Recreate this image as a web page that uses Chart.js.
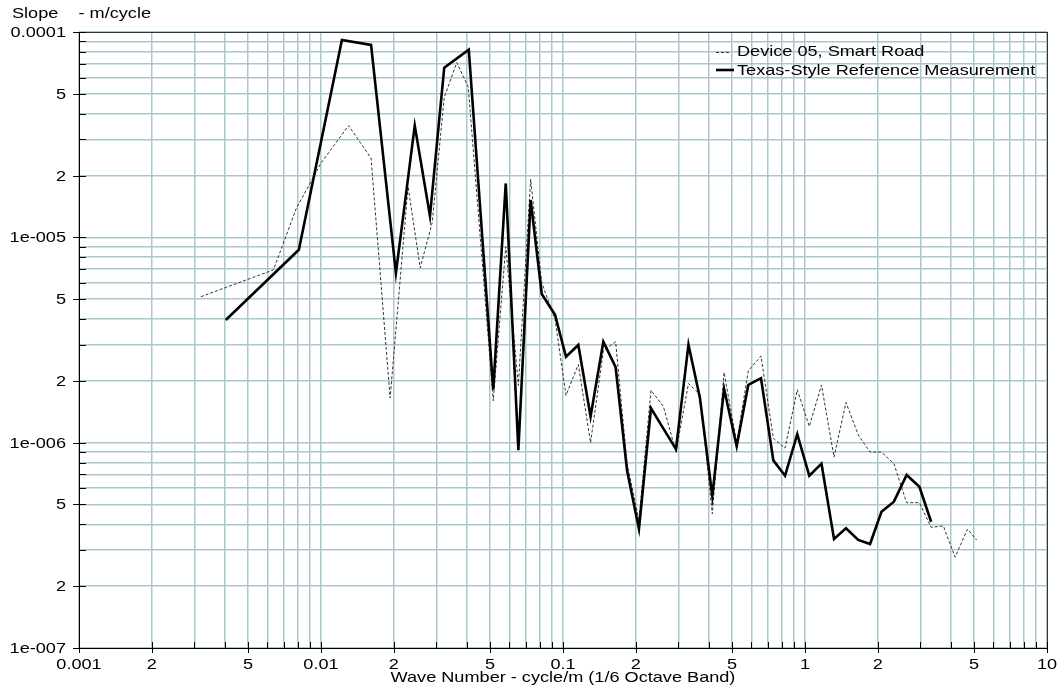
<!DOCTYPE html>
<html>
<head>
<meta charset="utf-8">
<title>Slope spectrum</title>
<script src="https://cdn.jsdelivr.net/npm/chart.js@4/dist/chart.umd.min.js"></script>
<style>
    html, body { margin: 0; padding: 0; background: #ffffff; }
    #wrap { width: 1062px; height: 692px; }
</style>
</head>
<body>
<div id="wrap"><canvas id="slopeChart" width="1062" height="692"></canvas></div>
<script>
// Device 05, Smart Road (dashed)
const deviceX = [0.00319, 0.00636, 0.0079, 0.0100, 0.0130, 0.0161, 0.0193, 0.0229, 0.0257, 0.0288,
    0.0323, 0.0364, 0.0406, 0.0515, 0.058, 0.0654, 0.0735, 0.0817, 0.0927, 0.1029,
    0.1157, 0.130, 0.1468, 0.165, 0.184, 0.206, 0.231, 0.26, 0.293, 0.33,
    0.368, 0.414, 0.463, 0.522, 0.583, 0.658, 0.740, 0.827, 0.929, 1.042,
    1.17, 1.318, 1.477, 1.66, 1.857, 2.07, 2.33, 2.63, 2.97, 3.32,
    3.73, 4.17, 4.69, 5.12];
const deviceY = [5.14e-6, 6.94e-6, 1.38e-5, 2.3e-5, 3.5e-5, 2.43e-5, 1.65e-6, 1.77e-5, 7.1e-6, 1.18e-5,
    4.8e-5, 7.1e-5, 5.4e-5, 1.6e-6, 9e-6, 1.9e-6, 1.92e-5, 6.0e-6, 4.0e-6, 1.7e-6,
    2.4e-6, 1.0e-6, 2.8e-6, 3.1e-6, 7.9e-7, 4.2e-7, 1.8e-6, 1.5e-6, 9e-7, 1.94e-6,
    1.72e-6, 4.5e-7, 2.2e-6, 1.0e-6, 2.24e-6, 2.64e-6, 1.05e-6, 9.4e-7, 1.81e-6, 1.2e-6,
    1.91e-6, 8.5e-7, 1.57e-6, 1.09e-6, 9.0e-7, 9.0e-7, 7.9e-7, 5.1e-7, 5.1e-7, 3.87e-7,
    3.93e-7, 2.77e-7, 3.79e-7, 3.36e-7];

// Texas-Style Reference Measurement (solid)
const texasX = [0.00404, 0.0081, 0.0122, 0.0161, 0.0204, 0.0244, 0.0282, 0.0323, 0.0408, 0.0515,
    0.058, 0.0654, 0.0735, 0.0817, 0.0927, 0.1029, 0.1157, 0.130, 0.1468, 0.165,
    0.184, 0.206, 0.231, 0.26, 0.293, 0.33, 0.368, 0.414, 0.463, 0.522,
    0.583, 0.658, 0.740, 0.827, 0.929, 1.042, 1.17, 1.318, 1.477, 1.66,
    1.857, 2.07, 2.33, 2.63, 2.97, 3.32];
const texasY = [3.96e-6, 8.7e-6, 9.15e-5, 8.65e-5, 6.7e-6, 3.5e-5, 1.27e-5, 6.7e-5, 8.2e-5, 1.81e-6,
    1.83e-5, 9.2e-7, 1.52e-5, 5.3e-6, 4.2e-6, 2.62e-6, 2.99e-6, 1.34e-6, 3.1e-6, 2.33e-6,
    7.3e-7, 3.8e-7, 1.47e-6, 1.17e-6, 9.3e-7, 3.0e-6, 1.65e-6, 5.5e-7, 1.83e-6, 9.6e-7,
    1.91e-6, 2.06e-6, 8.2e-7, 6.9e-7, 1.10e-6, 6.9e-7, 7.9e-7, 3.4e-7, 3.83e-7, 3.36e-7,
    3.21e-7, 4.61e-7, 5.16e-7, 6.96e-7, 6.1e-7, 4.12e-7];

// Tick labels
const xDecades = [0.001, 0.01, 0.1, 1, 10];
const xDecadeLabels = ['0.001', '0.01', '0.1', '1', '10'];
const yDecades = [1e-7, 1e-6, 1e-5, 1e-4];
const yDecadeLabels = ['1e-007', '1e-006', '1e-005', '0.0001'];
const minorSteps = [2, 3, 4, 5, 6, 7, 8, 9];
const labelledSteps = [2, 5];

const seriesNames = ['Device 05, Smart Road', 'Texas-Style Reference Measurement'];
const yTitle = 'Slope    - m/cycle';
const xTitle = 'Wave Number - cycle/m (1/6 Octave Band)';

// the source picture is stretched sideways, so text is too
const FONT = '14.5px "Liberation Sans", Arial, sans-serif';
const STRETCH = 1.25;
const GRID = '#a9c7cc';

function buildTicks(decades) {
    const list = [];
    decades.forEach((d, i) => {
        list.push({ value: d, label: i });
        if (i < decades.length - 1) {
            minorSteps.forEach(m => {
                list.push({ value: d * m, label: labelledSteps.includes(m) ? String(m) : null });
            });
        }
    });
    return list;
}

const xTickList = buildTicks(xDecades).map(t => ({
    value: t.value, text: typeof t.label === 'number' ? xDecadeLabels[t.label] : t.label
}));
const yTickList = buildTicks(yDecades).map(t => ({
    value: t.value, text: typeof t.label === 'number' ? yDecadeLabels[t.label] : t.label
}));

function toPoints(xs, ys) {
    return xs.map((x, i) => ({ x: x, y: ys[i] }));
}

function wideText(ctx, text, x, y, align) {
    ctx.save();
    ctx.translate(x, y);
    ctx.scale(STRETCH, 1);
    ctx.textAlign = align;
    ctx.fillText(text, 0, 0);
    ctx.restore();
}

// frame, tick marks, labels and legend
const decorPlugin = {
    id: 'decor',
    afterDraw(chart) {
        const ctx = chart.ctx;
        const area = chart.chartArea;
        const xs = chart.scales.x;
        const ys = chart.scales.y;

        ctx.save();
        // frame
        ctx.strokeStyle = '#333333';
        ctx.lineWidth = 1;
        ctx.strokeRect(Math.round(area.left) + 0.5, Math.round(area.top) + 0.5,
            Math.round(area.right - area.left), Math.round(area.bottom - area.top));
        ctx.strokeStyle = '#000000';
        ctx.beginPath();
        ctx.moveTo(Math.round(area.left) + 0.5, area.top);
        ctx.lineTo(Math.round(area.left) + 0.5, area.bottom + 0.5);
        ctx.lineTo(area.right, Math.round(area.bottom) + 0.5);
        ctx.stroke();

        // tick marks
        ctx.beginPath();
        xTickList.forEach(t => {
            const px = Math.round(xs.getPixelForValue(t.value)) + 0.5;
            ctx.moveTo(px, area.bottom - 6);
            ctx.lineTo(px, area.bottom + (t.text ? 5 : 0));
        });
        yTickList.forEach(t => {
            const py = Math.round(ys.getPixelForValue(t.value)) + 0.5;
            ctx.moveTo(area.left + 7, py);
            ctx.lineTo(area.left - (t.text ? 6 : 0), py);
        });
        ctx.stroke();

        // tick labels
        ctx.fillStyle = '#000000';
        ctx.font = FONT;
        ctx.textBaseline = 'alphabetic';
        xTickList.forEach(t => {
            if (!t.text) return;
            wideText(ctx, t.text, xs.getPixelForValue(t.value), area.bottom + 21, 'center');
        });
        yTickList.forEach(t => {
            if (!t.text) return;
            wideText(ctx, t.text, area.left - 13, ys.getPixelForValue(t.value) + 5, 'right');
        });

        // axis titles
        wideText(ctx, yTitle, 12, 18, 'left');
        wideText(ctx, xTitle, (area.left + area.right) / 2, area.bottom + 34, 'center');

        // legend
        const lx = 716, ly = 52;
        ctx.strokeStyle = '#333333';
        ctx.lineWidth = 1;
        ctx.setLineDash([3, 2]);
        ctx.beginPath();
        ctx.moveTo(lx, ly + 0.5);
        ctx.lineTo(lx + 15, ly + 0.5);
        ctx.stroke();
        ctx.setLineDash([]);
        ctx.strokeStyle = '#000000';
        ctx.lineWidth = 2.6;
        ctx.beginPath();
        ctx.moveTo(lx, ly + 18);
        ctx.lineTo(lx + 18, ly + 18);
        ctx.stroke();
        wideText(ctx, seriesNames[0], 737, 56, 'left');
        wideText(ctx, seriesNames[1], 737, 75, 'left');
        ctx.restore();
    }
};

new Chart(document.getElementById('slopeChart'), {
    type: 'line',
    data: {
        datasets: [{
            label: seriesNames[1],
            data: toPoints(texasX, texasY),
            borderColor: '#000000',
            borderWidth: 2.6,
            pointRadius: 0,
            tension: 0,
            order: 0
        }, {
            label: seriesNames[0],
            data: toPoints(deviceX, deviceY),
            borderColor: '#333333',
            borderWidth: 1,
            borderDash: [3, 2],
            pointRadius: 0,
            tension: 0,
            order: 1
        }]
    },
    options: {
        responsive: false,
        animation: false,
        layout: {
            padding: { left: 0, right: 15, top: 32, bottom: 0 }
        },
        plugins: {
            legend: { display: false },
            tooltip: { enabled: false }
        },
        scales: {
            x: {
                type: 'logarithmic',
                min: 0.001,
                max: 10,
                afterBuildTicks: s => { s.ticks = xTickList.map(t => ({ value: t.value })); },
                afterFit: s => { s.height = 44; },
                ticks: { display: false, autoSkip: false },
                grid: { color: GRID, lineWidth: 1.5, drawTicks: false },
                border: { display: false }
            },
            y: {
                type: 'logarithmic',
                min: 1e-7,
                max: 1e-4,
                afterBuildTicks: s => { s.ticks = yTickList.map(t => ({ value: t.value })); },
                afterFit: s => { s.width = 79; },
                ticks: { display: false, autoSkip: false },
                grid: { color: GRID, lineWidth: 1.5, drawTicks: false },
                border: { display: false }
            }
        }
    },
    plugins: [decorPlugin]
});
</script>
</body>
</html>
